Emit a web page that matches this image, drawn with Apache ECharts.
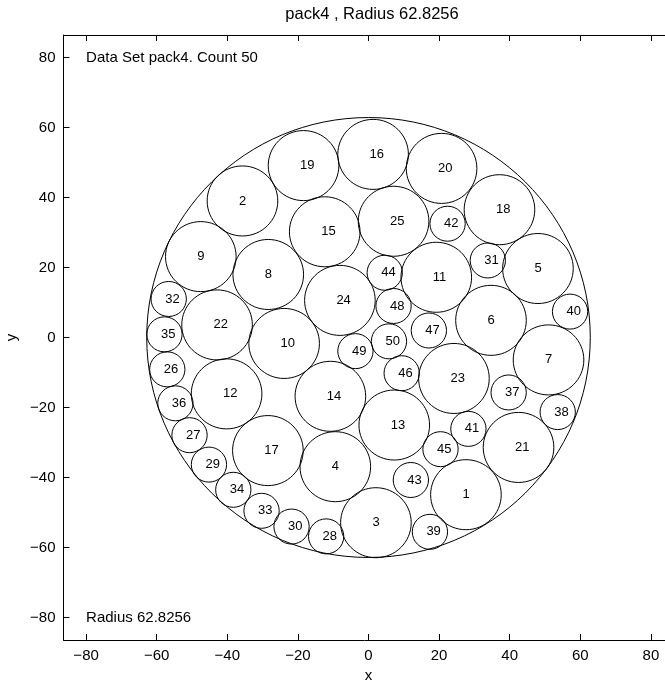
<!DOCTYPE html>
<html>
<head>
<meta charset="utf-8">
<script src="https://cdn.jsdelivr.net/npm/echarts@6/dist/echarts.min.js"></script>
<style>
html,body{margin:0;padding:0;background:#fff;}
#chart{width:665px;height:690px;}
</style>
</head>
<body>
<div id="chart"></div>
<script>
// ---- data ----
const circleIds = [1,2,3,4,5,6,7,8,9,10,11,12,13,14,15,16,17,18,19,20,21,22,23,24,25,
  26,27,28,29,30,31,32,33,34,35,36,37,38,39,40,41,42,43,44,45,46,47,48,49,50];
const circleX = [27.6,-35.7,2.1,-9.4,48.0,34.7,51.0,-28.4,-47.5,-23.9,19.2,-40.2,7.3,-10.8,-12.4,1.3,-28.5,37.1,-18.4,20.7,42.5,-42.9,24.2,-8.1,7.1,
  -57.0,-50.7,-12.0,-45.2,-21.8,33.8,-56.6,-30.3,-38.3,-57.8,-54.7,39.7,53.6,17.4,57.1,28.3,22.4,12.0,4.6,20.4,9.4,17.1,7.1,-3.7,5.8];
const circleY = [-44.9,39.0,-52.9,-36.9,19.7,4.9,-6.4,18.0,23.1,-1.7,17.2,-16.1,-25.0,-16.8,30.2,52.3,-32.3,36.5,49.1,48.3,-31.4,3.6,-11.7,10.6,33.2,
  -9.1,-27.9,-56.8,-36.3,-54.0,22.0,11.0,-49.5,-43.5,0.9,-18.8,-15.7,-21.3,-55.5,7.4,-26.1,32.5,-40.7,18.5,-31.9,-10.2,2.0,9.0,-3.9,-1.1];
const circleR = [10,10,10,10,10,10,10,10,10,10,10,10,10,10,10,10,10,10,10,10,10,10,10,10,10,
  5,5,5,5,5,5,5,5,5,5,5,5,5,5,5,5,5,5,5,5,5,5,5,5,5];
const outerRadius = 62.8256;
const outerCenter = [0, 0];
const axisTicks = [-80,-60,-40,-20,0,20,40,60,80];
const annotationX = [-80, -80];
const annotationY = [80, -80];
const annotationText = ['Data Set pack4. Count 50', 'Radius 62.8256'];
const titleText = 'pack4 , Radius 62.8256';
const axisLimit = 86.4;
const labelShift = 1; // labels start 1 data unit left of each centre (left-aligned)

// ---- chart ----
const FONT = 'Liberation Sans, Arial, Helvetica, sans-serif';
const circleData = circleIds.map((id, i) => [circleX[i], circleY[i], circleR[i], id]);
const annData = annotationX.map((x, i) => [x, annotationY[i]]);

function circleItem(params, api) {
  const x = api.value(0), y = api.value(1);
  const c = api.coord([x, y]);
  const s = api.size([api.value(2), api.value(2)]);
  const children = [{
    type: 'ellipse',
    shape: {cx: c[0], cy: c[1], rx: s[0], ry: s[1]},
    style: {fill: 'none', stroke: '#000', lineWidth: 1}
  }];
  const id = api.value(3);
  if (!isNaN(id)) {
    const t = api.coord([x - labelShift, y]);
    children.push({
      type: 'text', x: t[0], y: t[1],
      style: {text: String(id), align: 'left', verticalAlign: 'middle',
              font: '13px ' + FONT, fill: '#000'}
    });
  }
  return {type: 'group', children};
}

const axisCommon = {
  type: 'value', min: -axisLimit, max: axisLimit,
  splitLine: {show: false},
  axisLine: {show: true, onZero: false, lineStyle: {color: '#000', width: 1}},
  axisTick: {show: true, inside: true, length: 6, lineStyle: {color: '#000'},
             customValues: axisTicks},
};

const chart = echarts.init(document.getElementById('chart'), null, {renderer: 'canvas'});
chart.setOption({
  animation: false,
  backgroundColor: '#fff',
  title: {text: titleText, left: 367, textAlign: 'center', top: 1,
          textStyle: {fontSize: 16.5, fontWeight: 'normal', color: '#000', fontFamily: FONT}},
  grid: {left: 63.5, top: 35, width: 610, height: 605, containLabel: false, outerBoundsMode: 'none'},
  xAxis: [
    Object.assign({}, axisCommon, {
      position: 'bottom', name: 'x', nameLocation: 'middle', nameGap: 28,
      nameTextStyle: {fontSize: 15, color: '#000', fontFamily: FONT},
      axisLabel: {show: true, customValues: axisTicks, margin: 8, fontSize: 15, color: '#000', fontFamily: FONT,
                  formatter: v => String(v).replace('-', '\u2212')}
    }),
    Object.assign({}, axisCommon, {position: 'top', axisLabel: {show: false}})
  ],
  yAxis: [
    Object.assign({}, axisCommon, {
      position: 'left', name: 'y', nameLocation: 'middle', nameGap: 35, nameRotate: 90,
      nameTextStyle: {fontSize: 15, color: '#000', fontFamily: FONT},
      axisLabel: {show: true, customValues: axisTicks, margin: 8, fontSize: 15, color: '#000', fontFamily: FONT,
                  formatter: v => String(v).replace('-', '\u2212')}
    }),
    Object.assign({}, axisCommon, {position: 'right', axisLabel: {show: false}})
  ],
  series: [
    {
      type: 'custom', name: 'outer', xAxisIndex: 0, yAxisIndex: 0,
      renderItem: circleItem, clip: false,
      data: [[outerCenter[0], outerCenter[1], outerRadius, NaN]]
    },
    {
      type: 'custom', name: 'circles', xAxisIndex: 0, yAxisIndex: 0,
      renderItem: circleItem, clip: false,
      data: circleData
    },
    {
      type: 'custom', name: 'annotations', xAxisIndex: 0, yAxisIndex: 0,
      renderItem: function (params, api) {
        const c = api.coord([api.value(0), api.value(1)]);
        return {type: 'text', x: c[0], y: c[1],
                style: {text: annotationText[params.dataIndex], align: 'left', verticalAlign: 'middle',
                        font: '15px ' + FONT, fill: '#000'}};
      },
      data: annData
    }
  ]
});
</script>
</body>
</html>
